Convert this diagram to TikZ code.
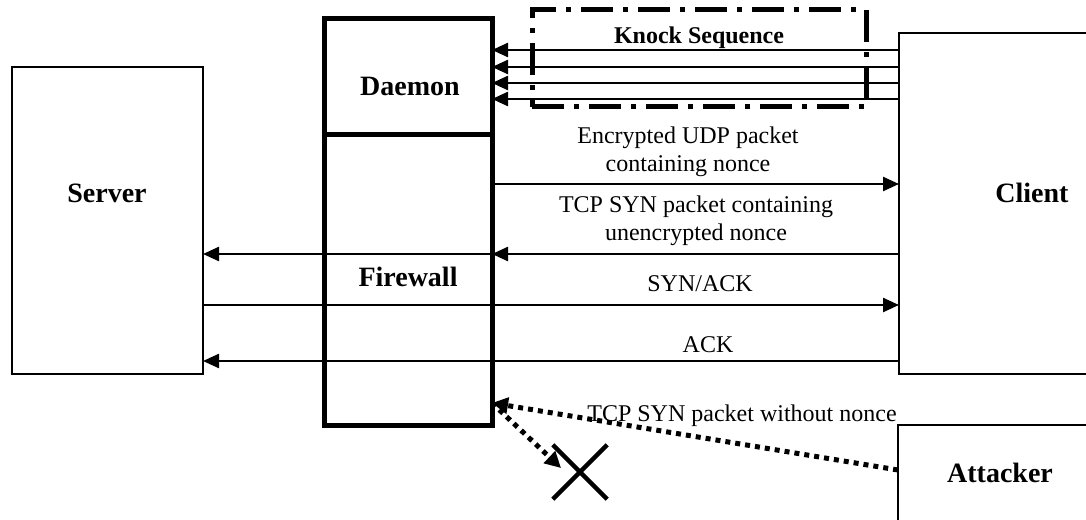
\documentclass[tikz,border=0pt]{standalone}
\usepackage{fontspec}
\setmainfont{Liberation Serif}
\usetikzlibrary{arrows.meta,fit,shapes.misc}
\begin{document}
\begin{tikzpicture}[x=0.5pt,y=-0.5pt,
  thinbox/.style={draw,line width=1pt,inner sep=0pt,outer sep=0pt},
  wallbox/.style={draw,line width=2.5pt,inner sep=0pt,outer sep=0pt},
  knockbox/.style={draw,line width=2.5pt,inner sep=0pt,outer sep=0pt,
    dash pattern=on 16pt off 5pt on 2.5pt off 5pt},
  msg/.style={line width=1.2pt,-{Triangle[length=8pt,width=7pt]}},
  attack/.style={line width=2.5pt,dash pattern=on 2.5pt off 2.5pt,
    -{Triangle[length=8pt,width=8pt]}},
  title/.style={font=\bfseries\fontsize{14}{17}\selectfont,inner sep=0pt},
  caption/.style={font=\fontsize{12}{14}\selectfont,align=center,inner sep=0pt},
]
\useasboundingbox (0,0) rectangle (1086,519);
\clip (0,0) rectangle (1086,519);

% hosts and the firewall
\node[thinbox,fit={(12,67) (203,374)}] (server) {};
\node[thinbox,fit={(899,33) (1140,374)}] (client) {};
\node[thinbox,fit={(898,425) (1140,560)}] (attacker) {};
\node[knockbox,fit={(532,10) (866,107)}] (knock) {};
\node[wallbox,fit={(324,19) (492,134)}] (daemon) {};
\node[wallbox,fit={(324,134) (492,425)}] (firewall) {};

% box titles
\node[title] (serverlabel) at (107,193) {Server};
\node[title] (clientlabel) at (1032,193) {Client};
\node[title] (attackerlabel) at (1000,473) {Attacker};
\node[title] (daemonlabel) at (410,86) {Daemon};
\node[title] (firewalllabel) at (408,277) {Firewall};
\node[title,font=\bfseries\fontsize{12}{14}\selectfont] (knocklabel) at (699,38) {Knock Sequence};

% knock sequence
\foreach \y in {50,67,83,99}
  \draw[msg] (client.west |- 0,\y) -- (daemon.east |- 0,\y);

% connection set-up
\draw[msg] (firewall.east |- 0,184) -- (client.west |- 0,184);
\draw[msg] (client.west |- 0,254) -- (firewall.east |- 0,254);
\draw[msg] (firewall.east |- 0,254) -- (server.east |- 0,254);
\draw[msg] (server.east |- 0,305) -- (client.west |- 0,305);
\draw[msg] (client.west |- 0,361) -- (server.east |- 0,361);

\node[caption] (udplabel) at (688,152) {Encrypted UDP packet\\containing nonce};
\node[caption] (synlabel) at (696,221) {TCP SYN packet containing\\unencrypted nonce};
\node[caption] (synacklabel) at (700,284) {SYN/ACK};
\node[caption] (acklabel) at (708,345) {ACK};

% attacker without nonce
\coordinate (drop) at (561,468);
\draw[attack] (attacker.west |- 0,470) -- (firewall.east |- 0,403);
\draw[attack] (firewall.east |- 0,403) -- (drop);
\node[draw,cross out,line width=2.2pt,minimum size=25pt,inner sep=0pt] (cross) at (580,472) {};
\node[caption] (attacklabel) at (742,416) {TCP SYN packet without nonce};
\end{tikzpicture}
\end{document}
